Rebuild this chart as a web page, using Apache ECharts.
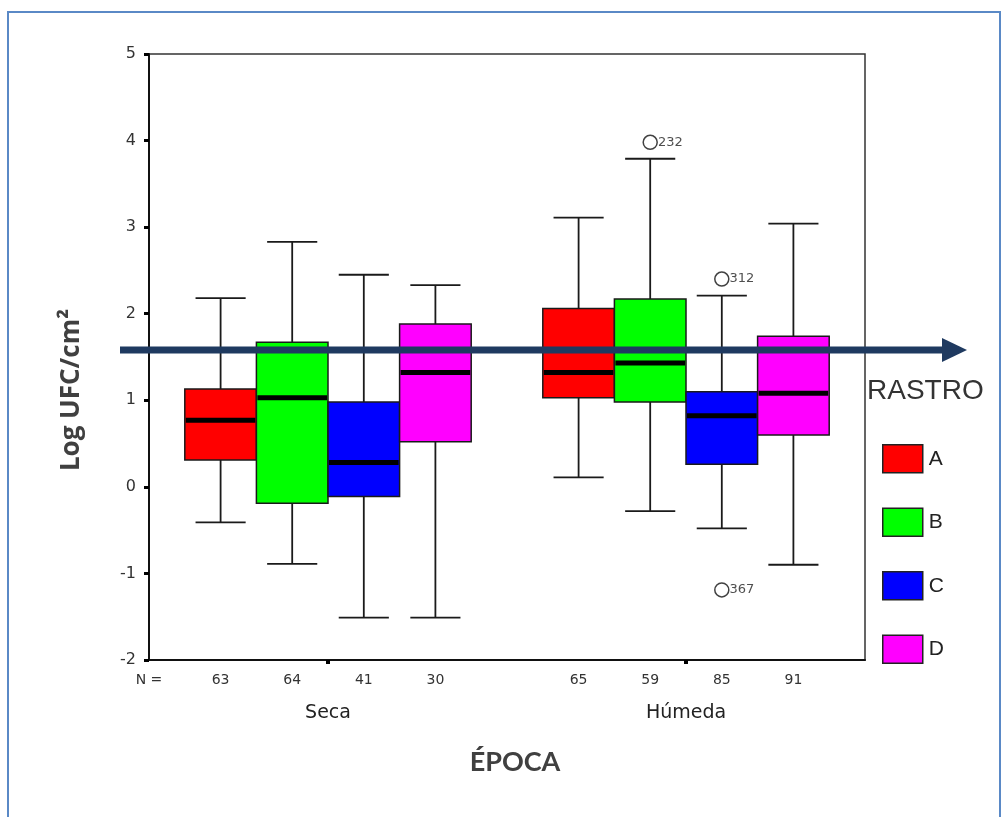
<!DOCTYPE html>
<html>
<head>
<meta charset="utf-8">
<title>Log UFC/cm2 por época y rastro</title>
<script src="https://cdn.jsdelivr.net/npm/echarts@6/dist/echarts.min.js"></script>
<style>
  html, body { margin: 0; padding: 0; background: #fff; }
  #chart { width: 1008px; height: 817px; }
</style>
</head>
<body>
<div id="chart"></div>
<script>
// valores: [mínimo, Q1, mediana, Q3, máximo] para Seca y Húmeda
const epocas = ['Seca', 'Húmeda']
const rastros = ['A', 'B', 'C', 'D']
const rastroA = [[-0.41, 0.31, 0.77, 1.13, 2.18], [0.11, 1.03, 1.32, 2.06, 3.11]]
const rastroB = [[-0.89, -0.19, 1.03, 1.67, 2.83], [-0.28, 0.98, 1.43, 2.17, 3.79]]
const rastroC = [[-1.51, -0.11, 0.28, 0.98, 2.45], [-0.48, 0.26, 0.82, 1.10, 2.21]]
const rastroD = [[-1.51, 0.52, 1.32, 1.88, 2.33], [-0.90, 0.60, 1.08, 1.74, 3.04]]
const nSeca = [63, 64, 41, 30]
const nHumeda = [65, 59, 85, 91]

// casos atípicos
const atipicoEpoca = [1, 1, 1]
const atipicoRastro = [1, 2, 2]
const atipicoValor = [3.98, 2.40, -1.19]
const atipicoCaso = ['232', '312', '367']

const nivelFlecha = 1.58

const colores = ['#ff0000', '#00ff00', '#0000ff', '#ff00ff']
const stats = [rastroA, rastroB, rastroC, rastroD]
const nPorEpoca = [nSeca, nHumeda]

// posición en el eje x: cuatro cajas por época y un hueco entre épocas
const pos = (e, r) => e * 5 + r + 1

const nLabels = new Map([[0, 'N =']])
nPorEpoca.forEach((ns, e) => ns.forEach((n, r) => nLabels.set(pos(e, r), String(n))))

const chart = echarts.init(document.getElementById('chart'))

const renderBox = (params, api) => {
  const x = api.value(0)
  const [lo, q1, med, q3, hi] = [1, 2, 3, 4, 5].map(d => api.coord([x, api.value(d)])[1])
  const cx = api.coord([x, 0])[0]
  const w = api.size([1, 0])[0]
  const cap = w * 0.7
  const line = { stroke: '#1a1a1a', lineWidth: 1.8 }
  return {
    type: 'group',
    children: [
      { type: 'line', shape: { x1: cx, y1: hi, x2: cx, y2: q3 }, style: line },
      { type: 'line', shape: { x1: cx, y1: q1, x2: cx, y2: lo }, style: line },
      { type: 'line', shape: { x1: cx - cap / 2, y1: hi, x2: cx + cap / 2, y2: hi }, style: line },
      { type: 'line', shape: { x1: cx - cap / 2, y1: lo, x2: cx + cap / 2, y2: lo }, style: line },
      {
        type: 'rect',
        shape: { x: cx - w / 2, y: q3, width: w, height: q1 - q3 },
        style: { fill: api.visual('color'), stroke: '#1a1a1a', lineWidth: 1.5 }
      },
      {
        type: 'line',
        shape: { x1: cx - w / 2 + 1, y1: med, x2: cx + w / 2 - 1, y2: med },
        style: { stroke: '#000', lineWidth: 5 }
      }
    ]
  }
}

const boxSeries = rastros.map((name, r) => ({
  name,
  type: 'custom',
  renderItem: renderBox,
  itemStyle: { color: colores[r], borderColor: '#222', borderWidth: 1.5 },
  encode: { x: 0, y: [1, 2, 3, 4, 5] },
  data: stats[r].map((s, e) => [pos(e, r), ...s])
}))

const option = {
  backgroundColor: '#fff',
  animation: false,
  title: {
    text: 'RASTRO',
    left: 867,
    top: 377,
    padding: 0,
    textStyle: { fontSize: 28, fontWeight: 'normal', color: '#333', fontFamily: 'Liberation Sans' }
  },
  legend: {
    data: rastros,
    orient: 'vertical',
    left: 882,
    top: 444,
    padding: 0,
    icon: 'rect',
    itemWidth: 40,
    itemHeight: 28,
    itemGap: 34,
    itemStyle: { borderColor: '#222', borderWidth: 1.5 },
    textStyle: { fontSize: 21, color: '#222', fontFamily: 'Liberation Sans', padding: [0, 0, 0, 1] }
  },
  grid: {
    left: 149,
    right: 143,
    top: 54,
    bottom: 157,
    show: true,
    borderColor: '#333',
    borderWidth: 1.5
  },
  xAxis: [
    {
      type: 'value',
      min: 0,
      max: 10,
      axisLine: { onZero: false, lineStyle: { color: '#111', width: 2 } },
      axisTick: { customValues: [2.5, 7.5], length: 4, lineStyle: { color: '#000', width: 4 } },
      axisLabel: {
        customValues: [2.5, 7.5],
        formatter: v => epocas[v < 5 ? 0 : 1],
        margin: 44,
        fontSize: 19,
        color: '#222',
        fontFamily: 'DejaVu Sans'
      },
      splitLine: { show: false }
    },
    {
      type: 'value',
      min: 0,
      max: 10,
      position: 'bottom',
      axisLine: { show: false, onZero: false },
      axisTick: { show: false },
      splitLine: { show: false },
      axisLabel: {
        customValues: [...nLabels.keys()],
        formatter: v => nLabels.get(v) || '',
        margin: 13,
        fontSize: 14,
        color: '#333',
        fontFamily: 'DejaVu Sans'
      }
    }
  ],
  yAxis: {
    type: 'value',
    min: -2,
    max: 5,
    interval: 1,
    axisLine: { show: true, onZero: false, lineStyle: { color: '#111', width: 2 } },
    axisTick: { show: true, length: 5, lineStyle: { color: '#000', width: 3 } },
    axisLabel: { fontSize: 16, color: '#333', margin: 13, fontFamily: 'DejaVu Sans' },
    splitLine: { show: false }
  },
  series: [
    ...boxSeries,
    {
      name: 'atípicos',
      type: 'scatter',
      symbol: 'circle',
      symbolSize: 14,
      itemStyle: { color: '#fff', borderColor: '#111', borderWidth: 1.5 },
      label: {
        show: true,
        position: 'right',
        distance: 0,
        formatter: p => p.data[2],
        fontSize: 13,
        color: '#222',
        fontFamily: 'DejaVu Sans'
      },
      z: 5,
      data: atipicoValor.map((v, i) => [pos(atipicoEpoca[i], atipicoRastro[i]), v, atipicoCaso[i]])
    }
  ],
  graphic: [
    {
      id: 'marco',
      type: 'rect',
      shape: { x: 8, y: 12, width: 992, height: 830 },
      style: { fill: 'none', stroke: '#5a89c6', lineWidth: 2 },
      silent: true
    },
    {
      id: 'tituloY',
      type: 'text',
      x: 72,
      y: 390,
      rotation: Math.PI / 2,
      style: {
        text: 'Log UFC/cm²',
        font: 'bold 26px "Open Sans"',
        fill: '#404040',
        align: 'center',
        verticalAlign: 'middle'
      }
    },
    {
      id: 'tituloX',
      type: 'text',
      x: 515,
      y: 762,
      style: {
        text: 'ÉPOCA',
        font: 'bold 27px Lato',
        fill: '#404040',
        align: 'center',
        verticalAlign: 'middle'
      }
    }
  ]
}

chart.setOption(option)

// flecha superpuesta al nivel indicado
const yFlecha = chart.convertToPixel({ yAxisIndex: 0 }, nivelFlecha)
chart.setOption({
  graphic: [
    {
      id: 'flechaLinea',
      type: 'line',
      z: 100,
      shape: { x1: 120, y1: yFlecha, x2: 944, y2: yFlecha },
      style: { stroke: '#1f3a60', lineWidth: 7 }
    },
    {
      id: 'flechaPunta',
      type: 'polygon',
      z: 100,
      shape: { points: [[942, yFlecha - 12], [967, yFlecha], [942, yFlecha + 12]] },
      style: { fill: '#1f3a60' }
    }
  ]
})

window.addEventListener('resize', () => chart.resize())
</script>
</body>
</html>
